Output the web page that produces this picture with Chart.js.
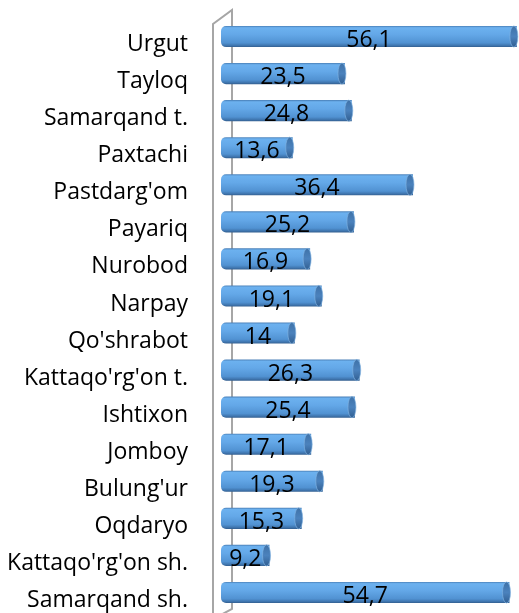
<!DOCTYPE html>
<html>
<head>
<meta charset="utf-8">
<script src="https://cdn.jsdelivr.net/npm/chart.js@4/dist/chart.umd.min.js"></script>
<style>
html,body{margin:0;padding:0;background:#fff;}
#wrap{width:519px;height:613px;position:relative;}
</style>
</head>
<body>
<div id="wrap"><canvas id="c"></canvas></div>
<script>
const categories = ["Urgut","Tayloq","Samarqand t.","Paxtachi","Pastdarg'om","Payariq","Nurobod","Narpay","Qo'shrabot","Kattaqo'rg'on t.","Ishtixon","Jomboy","Bulung'ur","Oqdaryo","Kattaqo'rg'on sh.","Samarqand sh."];
const values = [56.1,23.5,24.8,13.6,36.4,25.2,16.9,19.1,14,26.3,25.4,17.1,19.3,15.3,9.2,54.7];

const FONT = "'Open Sans', sans-serif";

function barGradient(ctx){
  const chart = ctx.chart;
  const y = chart.scales && chart.scales.y;
  if (!chart.chartArea || !y) return '#5b9bd5';
  const cy = y.getPixelForValue(ctx.dataIndex);
  const h = 10.5;
  const g = chart.ctx.createLinearGradient(0, cy - h, 0, cy + h);
  g.addColorStop(0, '#4a80b8');
  g.addColorStop(0.08, '#6cb1ef');
  g.addColorStop(0.4, '#64a8e8');
  g.addColorStop(0.8, '#5192d2');
  g.addColorStop(0.93, '#3f75ae');
  g.addColorStop(1, '#335f90');
  return g;
}

const wallPlugin = {
  id: 'wall',
  beforeDatasetsDraw(chart){
    const {ctx, chartArea:a} = chart;
    const fx = a.left - 8, bx = a.left + 11;
    ctx.save();
    ctx.strokeStyle = '#a6a6a6';
    ctx.lineWidth = 2;
    ctx.beginPath();
    ctx.moveTo(fx, chart.height + 2);
    ctx.lineTo(fx, a.top + 6);
    ctx.lineTo(bx, a.top - 8);
    ctx.lineTo(bx, a.bottom - 2);
    ctx.lineTo(fx, a.bottom + 8);
    ctx.stroke();
    ctx.restore();
  }
};

const capPlugin = {
  id: 'caps',
  afterDatasetsDraw(chart){
    const ctx = chart.ctx;
    const meta = chart.getDatasetMeta(0);
    ctx.save();
    meta.data.forEach((el, i) => {
      const h = el.height / 2;
      const g = ctx.createLinearGradient(0, el.y - h, 0, el.y + h);
      g.addColorStop(0, '#3f72a8');
      g.addColorStop(0.5, '#4b82bd');
      g.addColorStop(1, '#315f92');
      ctx.beginPath();
      ctx.ellipse(el.x - 3, el.y, 4, h, 0, 0, Math.PI * 2);
      ctx.fillStyle = g;
      ctx.fill();
      ctx.strokeStyle = 'rgba(130,180,225,0.8)';
      ctx.lineWidth = 0.8;
      ctx.stroke();
    });
    ctx.fillStyle = '#000';
    ctx.font = '23px ' + FONT;
    ctx.textAlign = 'center';
    ctx.textBaseline = 'middle';
    meta.data.forEach((el, i) => {
      const txt = String(values[i]).replace('.', ',');
      ctx.fillText(txt, (el.x + el.base) / 2, el.y + 4);
    });
    ctx.restore();
  }
};

new Chart(document.getElementById('c'), {
  type: 'bar',
  data: {
    labels: categories,
    datasets: [{
      data: values,
      backgroundColor: barGradient,
      borderWidth: 0,
      borderSkipped: false,
      borderRadius: {topLeft: 5, bottomLeft: 5, topRight: 0, bottomRight: 0},
      categoryPercentage: 1,
      barPercentage: 0.57
    }]
  },
  options: {
    indexAxis: 'y',
    responsive: true,
    maintainAspectRatio: false,
    animation: false,
    devicePixelRatio: 1,
    layout: {padding: {top: 18, bottom: 2, left: 0, right: 0}},
    plugins: {legend: {display: false}, tooltip: {enabled: false}},
    scales: {
      x: {
        min: 0, max: 56.5,
        display: false,
        grid: {display: false}
      },
      y: {
        afterFit(s){ s.width = 221; s.paddingTop = 0; s.paddingBottom = 0; },
        grid: {display: false, drawTicks: false},
        border: {display: false},
        ticks: {
          color: '#000',
          font: {family: FONT, size: 23},
          padding: 33,
          labelOffset: 8
        }
      }
    }
  },
  plugins: [wallPlugin, capPlugin]
});
</script>
</body>
</html>
